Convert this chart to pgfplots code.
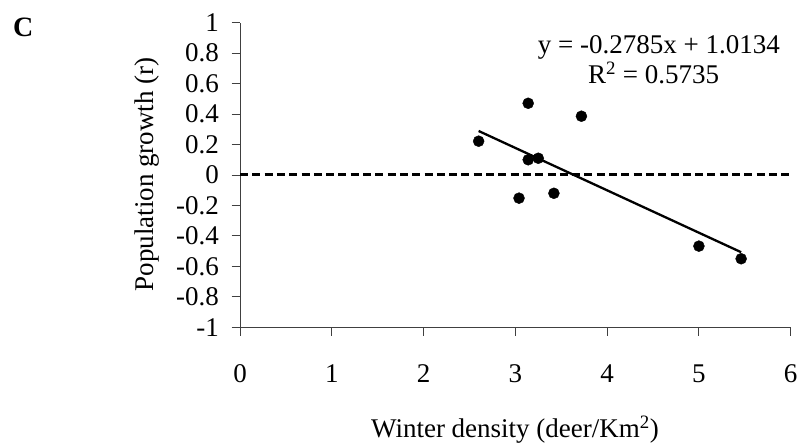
\documentclass[border=0pt]{standalone}
\usepackage{fontspec}
\setmainfont{Liberation Serif}
\usepackage{pgfplots}
\pgfplotsset{compat=1.18}

\newcommand{\lbl}{\fontsize{27bp}{31bp}\selectfont}

\begin{document}
\begin{tikzpicture}
  \begin{axis}[
      at={(240bp,118.7bp)}, anchor=south west,
      scale only axis,
      width=550.7bp, height=304.6bp,
      xmin=0, xmax=6,
      ymin=-1, ymax=1,
      axis lines=left,
      axis line style={-, black!75, line width=0.9bp},
      tick style={black!75, line width=0.9bp},
      tick align=outside,
      major tick length=8.5bp,
      xtick={0,1,2,3,4,5,6},
      xticklabels={0,1,2,3,4,5,6},
      ytick={-1,-0.8,-0.6,-0.4,-0.2,0,0.2,0.4,0.6,0.8,1},
      yticklabels={-1,-0.8,-0.6,-0.4,-0.2,0,0.2,0.4,0.6,0.8,1},
      tick label style={font=\lbl},
      xticklabel style={yshift=-25bp},
      yticklabel style={xshift=-9bp},
      clip=false,
    ]
    % zero reference
    \addplot[black, line width=3bp, dash pattern=on 8bp off 4.3bp] coordinates {(0,0) (6,0)};
    % linear trend
    \addplot[black, line width=2.3bp] coordinates {(2.60,0.289) (5.46,-0.507)};
    % observations
    \addplot[only marks, mark=*, mark size=5.5bp, black] coordinates {
      (2.60,0.222) (3.14,0.471) (3.72,0.386) (3.14,0.100) (3.25,0.110)
      (3.04,-0.152) (3.42,-0.120) (5.00,-0.467) (5.46,-0.550)
    };
  \end{axis}

  \node[anchor=base west, inner sep=0, font=\fontsize{28bp}{32bp}\selectfont\bfseries] at (13bp,409bp) {C};
  \node[anchor=base, inner sep=0, rotate=90, font=\lbl] at (153bp,271.5bp) {Population growth (r)};
  \node[anchor=base, inner sep=0, font=\lbl] at (515bp,9bp) {Winter density (deer/Km\textsuperscript{2})};
  \node[anchor=base east, inner sep=0, font=\lbl] at (780bp,392.7bp) {y = -0.2785x + 1.0134};
  \node[anchor=base west, inner sep=0, font=\lbl] at (588bp,362.7bp) {R\textsuperscript{2} = 0.5735};

  \pgfresetboundingbox
  \path[use as bounding box] (0,0) rectangle (801bp,446bp);
\end{tikzpicture}
\end{document}
